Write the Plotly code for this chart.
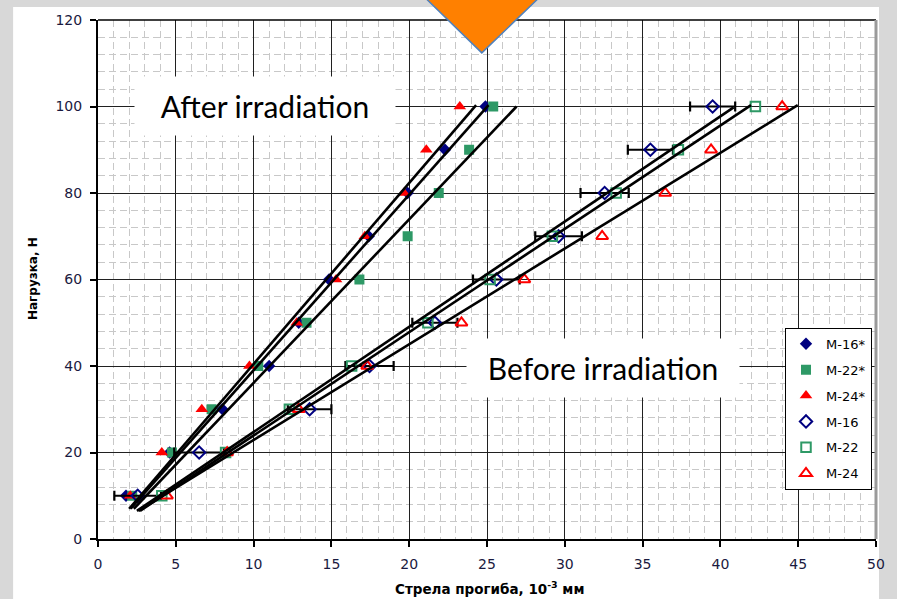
import plotly.graph_objects as go

# ---------------- data ----------------
loads = [10, 20, 30, 40, 50, 60, 70, 80, 90, 100]

# after irradiation (filled markers)
m16_irr = [1.8, 4.6, 8.0, 11.0, 12.9, 14.85, 17.4, 19.9, 22.3, 24.9]
m22_irr = [2.2, 4.75, 7.3, 10.3, 13.4, 16.8, 19.9, 21.9, 23.85, 25.4]
m24_irr = [2.07, 4.1, 6.67, 9.73, 12.77, 15.3, 17.15, 19.66, 21.1, 23.25]

# before irradiation (open markers)
m16 = [2.55, 6.5, 13.6, 17.45, 21.65, 25.6, 29.6, 32.56, 35.5, 39.5]
m16_err = [1.5, 1.6, 1.4, 1.55, 1.45, 1.5, 1.5, 1.55, 1.45, 1.45]
m22 = [4.1, 8.2, 12.3, 16.3, 21.2, 25.2, 29.2, 33.3, 37.3, 42.25]
m24 = [4.43, 8.3, 12.9, 17.3, 23.36, 27.4, 32.4, 36.45, 39.4, 43.97]

# fitted straight lines: [start, end]
fit_after_x = [[2.0, 24.3], [2.1, 25.1], [2.3, 26.9]]
fit_after_y = [[7, 100.3], [7, 100.3], [7, 100]]
fit_before_x = [[2.5, 40.85], [2.7, 41.97], [2.6, 44.97]]
fit_before_y = [[6.5, 99.8], [6.5, 100.3], [6.5, 100.3]]

legend_names = ["M-16*", "M-22*", "M-24*", "M-16", "M-22", "M-24"]
x_ticks = [0, 5, 10, 15, 20, 25, 30, 35, 40, 45, 50]
y_ticks = [0, 20, 40, 60, 80, 100, 120]

NAVY = "#000080"
GREEN = "#2e9966"
RED = "#ff0000"

# ---------------- figure ----------------
fig = go.Figure()

series = [
    (m16_irr, legend_names[0], "diamond", NAVY, 9.5, None),
    (m22_irr, legend_names[1], "square", GREEN, 10, None),
    (m24_irr, legend_names[2], "triangle-up", RED, 11, None),
    (m16, legend_names[3], "diamond-open", NAVY, 9.5, m16_err),
    (m22, legend_names[4], "square-open", GREEN, 9.5, None),
    (m24, legend_names[5], "triangle-up-open", RED, 10.5, None),
]
for i, (xs, name, sym, col, size, err) in enumerate(series):
    kw = {}
    if err is not None:
        kw["error_x"] = dict(type="data", array=err, visible=True,
                             color="black", thickness=2.2, width=5)
    fig.add_trace(go.Scatter(
        x=xs, y=loads, mode="markers", name=name, legendgroup=f"g{i}",
        marker=dict(symbol=sym, color=col, size=size,
                    line=dict(color=col, width=2 if "open" in sym else 0)),
        **kw))

for xs, ys in zip(fit_after_x + fit_before_x, fit_after_y + fit_before_y):
    fig.add_trace(go.Scatter(x=xs, y=ys, mode="lines", showlegend=False,
                             line=dict(color="black", width=2.6),
                             hoverinfo="skip"))

# pixel -> paper helpers
L, R, T, B = 98, 877, 18, 539
def px(x):
    return (x - L) / (R - L)
def py(y):
    return (B - y) / (B - T)

GREY = "#d8d8d8"
shapes = [
    # grey surround
    dict(type="rect", xref="paper", yref="paper", x0=px(-10), x1=px(13),
         y0=py(610), y1=py(-10), fillcolor=GREY, line=dict(width=0), layer="below"),
    dict(type="rect", xref="paper", yref="paper", x0=px(-10), x1=px(910),
         y0=py(5), y1=py(-10), fillcolor=GREY, line=dict(width=0), layer="below"),
    dict(type="rect", xref="paper", yref="paper", x0=px(880), x1=px(910),
         y0=py(610), y1=py(-10), fillcolor=GREY, line=dict(width=0), layer="below"),
    # frame: top and right
    dict(type="line", xref="paper", yref="paper", x0=0, x1=1, y0=1, y1=1,
         line=dict(color="black", width=1.5)),
    dict(type="line", xref="paper", yref="paper", x0=1, x1=1, y0=0, y1=1,
         line=dict(color="#9a9a9a", width=3)),
    # orange arrow head
    dict(type="path", xref="paper", yref="paper",
         path=f"M {px(419.8)},{py(-10)} L {px(545.4)},{py(-10)} L {px(482.3)},{py(51)} Z",
         fillcolor="#ff8000", line=dict(color="#4f81bd", width=1.5)),
]

annotations = [
    dict(text="After irradiation", xref="paper", yref="paper",
         x=px(265), y=py(104), xanchor="center", yanchor="middle",
         showarrow=False, bgcolor="white", borderpad=0, width=260, height=58,
         font=dict(family="Lato", size=30, color="black")),
    dict(text="Before irradiation", xref="paper", yref="paper",
         x=px(604), y=py(367), xanchor="center", yanchor="middle",
         showarrow=False, bgcolor="white", borderpad=0, width=272, height=58,
         font=dict(family="Lato", size=30, color="black")),
    dict(text="<b>Стрела прогиба, 10<sup>-3</sup> мм</b>", xref="paper", yref="paper",
         x=px(490), y=py(588), xanchor="center", yanchor="middle",
         showarrow=False, font=dict(family="DejaVu Sans", size=13.5, color="black")),
    dict(text="<b>Нагрузка, Н</b>", xref="paper", yref="paper",
         x=px(33), y=py(278), xanchor="center", yanchor="middle", textangle=-90,
         showarrow=False, font=dict(family="DejaVu Sans", size=12, color="black")),
]

axis_common = dict(
    showline=True, linecolor="black", linewidth=2,
    ticks="outside", ticklen=6, tickwidth=2, tickcolor="black",
    showgrid=True, gridcolor="#202020", gridwidth=1,
    zeroline=False, ticklabelstandoff=5,
    tickfont=dict(family="DejaVu Sans", size=14, color="#1a1a40"),
)

fig.update_xaxes(range=[0, 50], tickmode="array", tickvals=x_ticks,
                 minor=dict(dtick=1, showgrid=True, gridcolor="#c8c8c8",
                            griddash="7px,4px", gridwidth=1),
                 **axis_common)
fig.update_yaxes(range=[0, 120], tickmode="array", tickvals=y_ticks,
                 minor=dict(dtick=4, showgrid=True, gridcolor="#c8c8c8",
                            griddash="7px,4px", gridwidth=1),
                 **axis_common)

fig.update_layout(
    width=897, height=599,
    margin=dict(l=L, r=897 - R, t=T, b=599 - B),
    paper_bgcolor="white", plot_bgcolor="white",
    showlegend=True,
    legend=dict(x=px(873), y=py(327), xanchor="right", yanchor="top",
                bgcolor="white", bordercolor="black", borderwidth=1,
                font=dict(family="DejaVu Sans", size=13, color="black"),
                tracegroupgap=6, itemwidth=30),
    shapes=shapes, annotations=annotations,
    font=dict(family="DejaVu Sans"),
)

fig.write_html(
    "out.html",
    config={"displayModeBar": False},
    post_script="document.body.style.margin='0px';document.body.style.overflow='hidden';",
)
